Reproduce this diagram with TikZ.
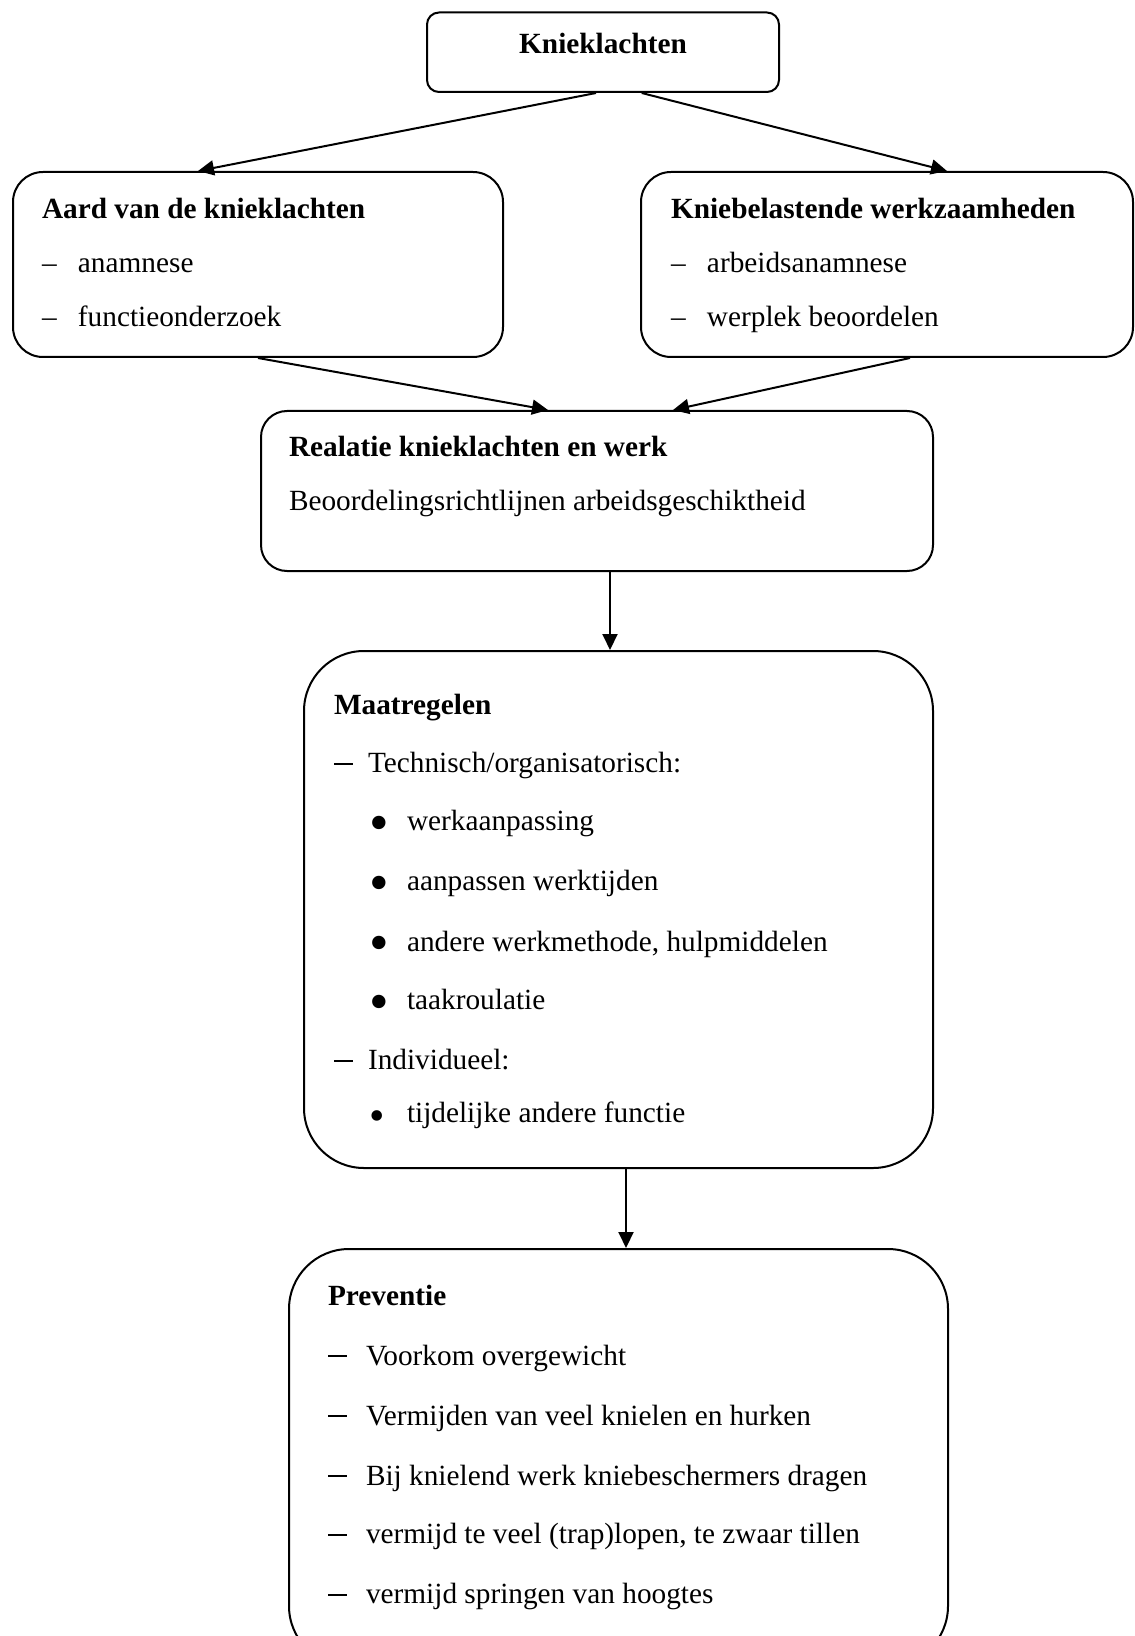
\documentclass[tikz,border=0pt]{standalone}
\usepackage{fontspec}
\setmainfont{Liberation Serif}
\usepackage{tikz}
\usetikzlibrary{arrows.meta}
\tikzset {
kader/.style={shape=rectangle,draw,line width=1pt,inner sep=0pt},
tekst/.style={anchor=base west,inner sep=0pt,font=\fontsize{14.65pt}{17pt}\selectfont}
}
\newcommand{\streep}[2]{\makebox[#1][l]{#2}}
\newcommand{\langstreep}{\rule[3.8pt]{9.3pt}{1pt}}
\newcommand{\grotebol}{\raisebox{-5.4pt}{\fontsize{28pt}{28pt}\selectfont\textbullet}}
\newcommand{\kleinebol}{\raisebox{-3.6pt}{\fontsize{22pt}{22pt}\selectfont\textbullet}}

\begin{document}
\begin{tikzpicture}
[>={Triangle[length=8pt,width=7.5pt]},line width=1pt,x=0.5pt,y=-0.5pt]
\useasboundingbox (0,0) rectangle (1134,1636);
% kaders
\node[kader,rounded corners=6pt,minimum width=176pt,minimum height=39.75pt] (knieklachten) at (603,52.25) {};
\node[kader,rounded corners=15pt,minimum width=245pt,minimum height=92.5pt] (aard) at (258,264.5) {};
\node[kader,rounded corners=15pt,minimum width=246pt,minimum height=92.5pt] (belasting) at (887,264.5) {};
\node[kader,rounded corners=13pt,minimum width=336pt,minimum height=80pt] (relatie) at (597,491) {};
\node[kader,rounded corners=30pt,minimum width=314.5pt,minimum height=258.5pt] (maatregelen) at (618.5,909.5) {};
\node[kader,rounded corners=30pt,minimum width=329.5pt,minimum height=208.5pt] (preventie) at (618.5,1457.5) {};

% teksten
\node[tekst,anchor=base] (knieklachten titel) at (603,53.3) {\textbf{Knieklachten}};
\node[tekst] (aard titel) at (41,218.3) {\textbf{Aard van de knieklachten}};
\node[tekst] (aard anamnese) at (41,272.5) {\streep{18pt}{–}anamnese};
\node[tekst] (aard onderzoek) at (41,326.7) {\streep{18pt}{–}functieonderzoek};
\node[tekst] (belasting titel) at (670,218.3) {\textbf{Kniebelastende werkzaamheden}};
\node[tekst] (belasting anamnese) at (670,272.5) {\streep{18pt}{–}arbeidsanamnese};
\node[tekst] (belasting werkplek) at (670,326.7) {\streep{18pt}{–}werplek beoordelen};
\node[tekst] (relatie titel) at (288,456.7) {\textbf{Realatie knieklachten en werk}};
\node[tekst] (relatie richtlijnen) at (288,510) {Beoordelingsrichtlijnen arbeidsgeschiktheid};
\node[tekst] (maatregelen titel) at (333,714) {\textbf{Maatregelen}};
\node[tekst] (maatregelen technisch) at (333,772.3) {\streep{17pt}{\langstreep}Technisch/organisatorisch:};
\node[tekst] (maatregelen aanpassing) at (368,830.7) {\streep{19pt}{\grotebol}werkaanpassing};
\node[tekst] (maatregelen werktijden) at (368,890.9) {\streep{19pt}{\grotebol}aanpassen werktijden};
\node[tekst] (maatregelen methode) at (368,951) {\streep{19pt}{\grotebol}andere werkmethode, hulpmiddelen};
\node[tekst] (maatregelen roulatie) at (368,1009.4) {\streep{19pt}{\grotebol}taakroulatie};
\node[tekst] (maatregelen individueel) at (333,1069.6) {\streep{17pt}{\langstreep}Individueel:};
\node[tekst] (maatregelen functie) at (368,1122.8) {\streep{19pt}{\kleinebol}tijdelijke andere functie};
\node[tekst] (preventie titel) at (327,1305) {\textbf{Preventie}};
\node[tekst] (preventie gewicht) at (327,1365) {\streep{19pt}{\langstreep}Voorkom overgewicht};
\node[tekst] (preventie knielen) at (327,1425) {\streep{19pt}{\langstreep}Vermijden van veel knielen en hurken};
\node[tekst] (preventie beschermers) at (327,1485) {\streep{19pt}{\langstreep}Bij knielend werk kniebeschermers dragen};
\node[tekst] (preventie tillen) at (327,1543.3) {\streep{19pt}{\langstreep}vermijd te veel (trap)lopen, te zwaar tillen};
\node[tekst] (preventie springen) at (327,1603.3) {\streep{19pt}{\langstreep}vermijd springen van hoogtes};

% pijlen
\draw[->] ([xshift=-3.5pt]knieklachten.south) to ([xshift=-30pt]aard.north);
\draw[->] ([xshift=19.35pt]knieklachten.south) to ([xshift=30pt]belasting.north);
\draw[->] (aard.south) to ([xshift=-24.5pt]relatie.north);
\draw[->] ([xshift=11.5pt]belasting.south) to ([xshift=38pt]relatie.north);
\draw[->] ([xshift=6.5pt]relatie.south) to ([xshift=6.5pt]relatie.south |- maatregelen.north);
\draw[->] ([xshift=3.75pt]maatregelen.south) to ([xshift=3.75pt]maatregelen.south |- preventie.north);
\end{tikzpicture}
\end{document}
